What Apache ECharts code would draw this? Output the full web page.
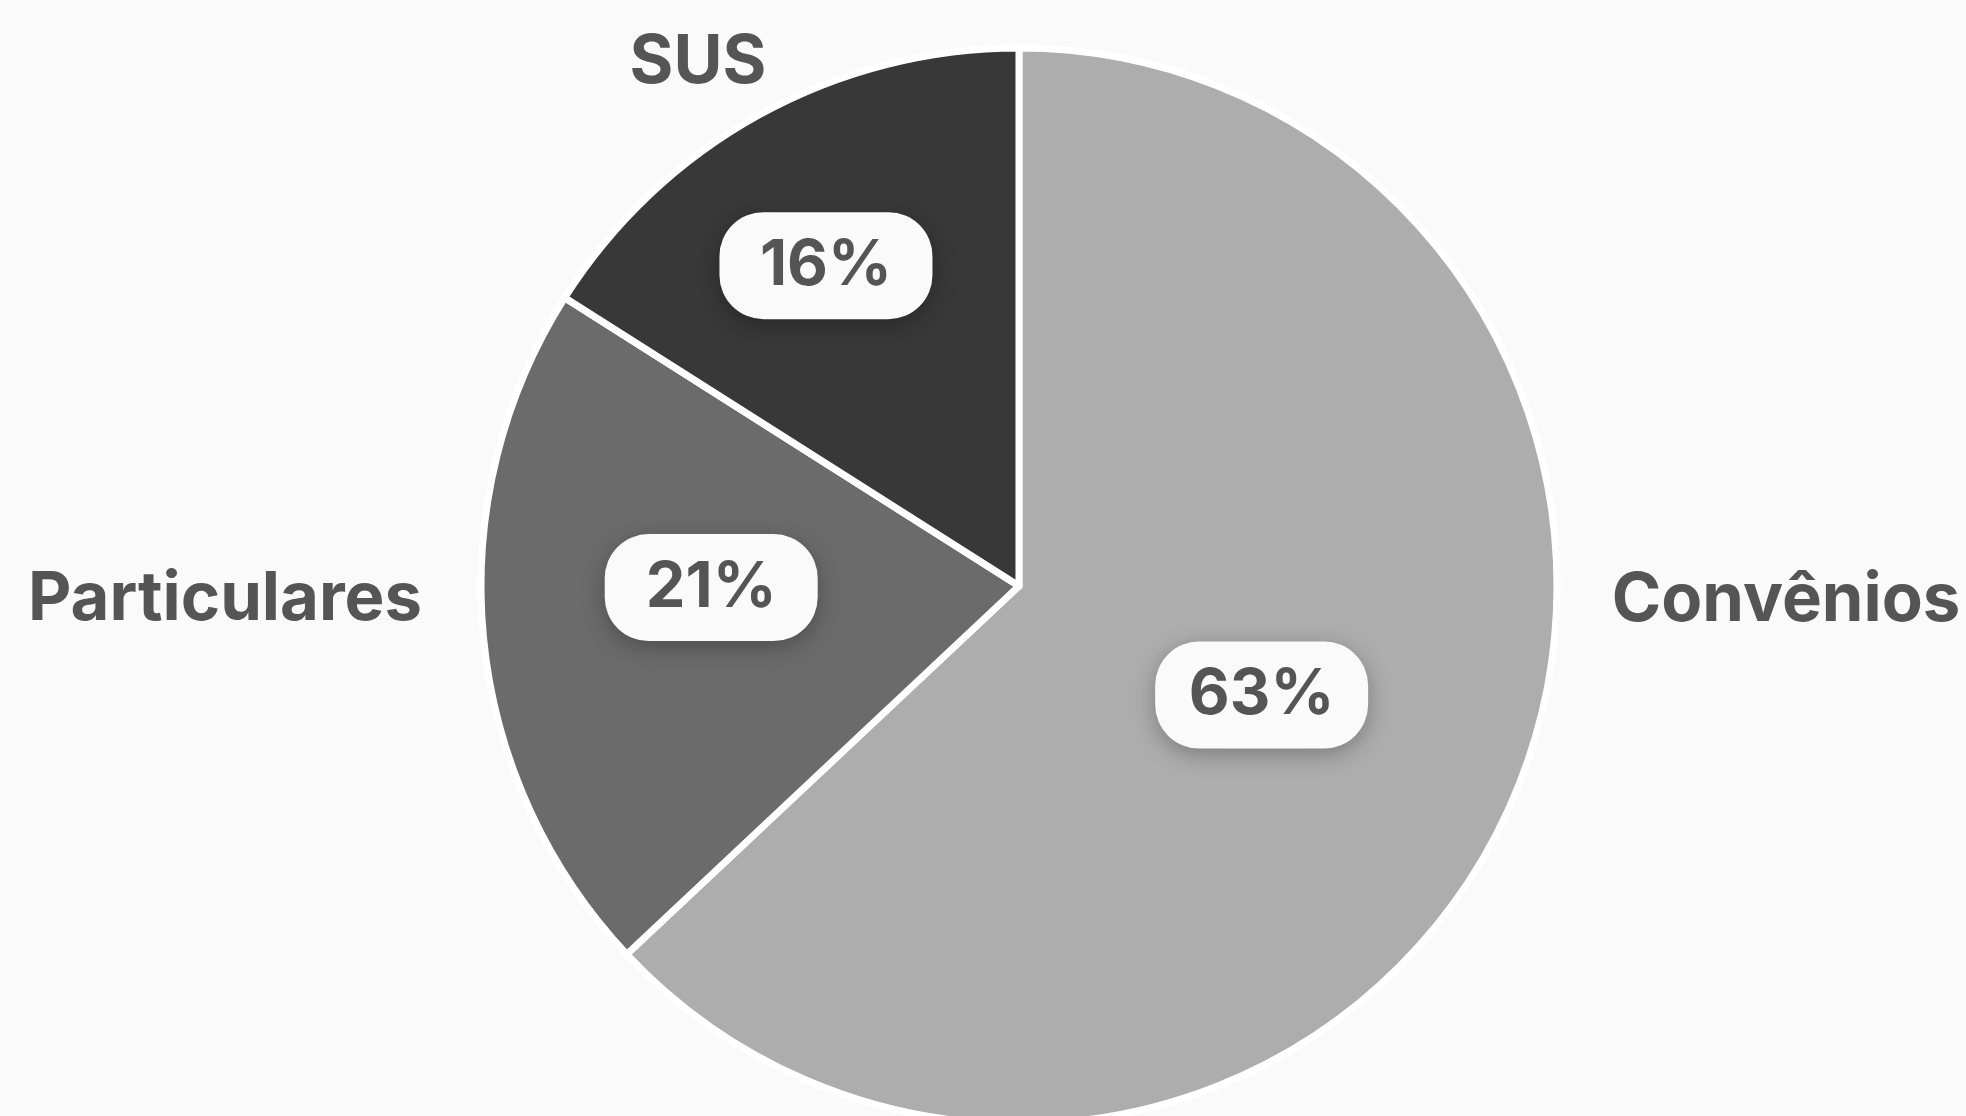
<!DOCTYPE html>
<html>
<head>
<meta charset="utf-8">
<script src="https://cdn.jsdelivr.net/npm/echarts@6/dist/echarts.min.js"></script>
<style>
html,body{margin:0;padding:0;background:#fafafa;}
#chart{width:1966px;height:1116px;}
</style>
</head>
<body>
<div id="chart"></div>
<script>
const categories = ['Convênios', 'Particulares', 'SUS'];
const values = [63, 21, 16];
const colors = ['#adadad', '#6b6b6b', '#383838'];

// label placement tweaks (style only)
const pctOffsets = [[-7, 1], [-37, -24], [-62, -82]];
const namePos = [[1786, 601], [225, 600], [698, 63]];

const chart = echarts.init(document.getElementById('chart'), null, {renderer: 'canvas'});
const data = categories.map((c, i) => ({name: c, value: values[i], itemStyle: {color: colors[i]}}));
const FONT = 'Inter, "Open Sans", sans-serif';

chart.setOption({
  backgroundColor: '#fafafa',
  animation: false,
  series: [
    {
      type: 'pie',
      center: [1019, 586],
      radius: 538,
      startAngle: 90,
      clockwise: true,
      silent: true,
      itemStyle: {borderColor: '#ffffff', borderWidth: 7},
      data: data,
      label: {
        show: true,
        position: 'inside',
        formatter: p => Math.round(p.value) + '%',
        fontFamily: FONT,
        fontWeight: 700,
        fontSize: 63,
        color: '#555555',
        backgroundColor: '#fafafa',
        borderRadius: 44,
        width: 213,
        height: 107,
        lineHeight: 107,
        align: 'center',
        verticalAlign: 'middle',
        shadowColor: 'rgba(0,0,0,0.28)',
        shadowBlur: 22,
        shadowOffsetY: 6
      },
      labelLayout: p => ({dx: pctOffsets[p.dataIndex][0], dy: pctOffsets[p.dataIndex][1]}),
      labelLine: {show: false}
    },
    {
      type: 'pie',
      center: [1019, 586],
      radius: 538,
      startAngle: 90,
      silent: true,
      itemStyle: {color: 'rgba(0,0,0,0)', borderWidth: 0},
      data: categories.map((c, i) => ({name: c, value: values[i]})),
      label: {
        show: true,
        position: 'outside',
        formatter: '{b}',
        fontFamily: FONT,
        fontWeight: 700,
        fontSize: 67,
        color: '#555555'
      },
      labelLine: {show: false},
      labelLayout: p => ({x: namePos[p.dataIndex][0], y: namePos[p.dataIndex][1], align: 'center', verticalAlign: 'middle', hideOverlap: false})
    }
  ]
});
</script>
</body>
</html>
